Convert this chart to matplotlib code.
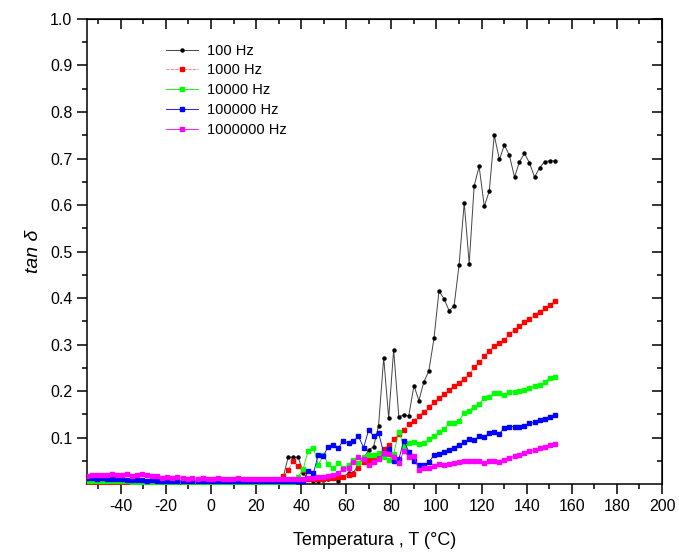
import matplotlib
matplotlib.use('Agg')
import matplotlib.pyplot as plt
from matplotlib.ticker import FixedLocator, FormatStrFormatter
import numpy as np

plt.rcParams['font.family'] = ['Liberation Sans', 'DejaVu Sans']
plt.rcParams['axes.unicode_minus'] = False

# temperature grid (deg C), shared by all frequencies
temp = [-55.0, -52.8, -50.5, -48.3, -46.1, -43.9, -41.6, -39.4, -37.2, -34.9,
        -32.7, -30.5, -28.2, -26.0, -23.8, -21.6, -19.3, -17.1, -14.9, -12.6,
        -10.4, -8.2, -5.9, -3.7, -1.5, 0.8, 3.0, 5.2, 7.4, 9.7,
        11.9, 14.1, 16.4, 18.6, 20.8, 23.1, 25.3, 27.5, 29.7, 32.0,
        34.2, 36.4, 38.7, 40.9, 43.1, 45.4, 47.6, 49.8, 52.0, 54.3,
        56.5, 58.7, 61.0, 63.2, 65.4, 67.7, 69.9, 72.1, 74.3, 76.6,
        78.8, 81.0, 83.3, 85.5, 87.7, 90.0, 92.2, 94.4, 96.6, 98.9,
        101.1, 103.3, 105.6, 107.8, 110.0, 112.3, 114.5, 116.7, 118.9, 121.2,
        123.4, 125.6, 127.9, 130.1, 132.3, 134.6, 136.8, 139.0, 141.2, 143.5,
        145.7, 147.9, 150.2, 152.4]

tan_100 = [0.002] * 39 + [
    0.014, 0.058, 0.058, 0.058, 0.025, 0.012, 0.007, 0.008, 0.009, 0.011,
    0.013, 0.007, 0.016, 0.024, 0.025, 0.043, 0.056, 0.073, 0.081, 0.125,
    0.272, 0.142, 0.289, 0.145, 0.149, 0.147, 0.212, 0.180, 0.220, 0.243,
    0.314, 0.415, 0.399, 0.373, 0.383, 0.471, 0.605, 0.474, 0.641, 0.683,
    0.597, 0.630, 0.750, 0.698, 0.729, 0.707, 0.660, 0.693, 0.711, 0.691,
    0.660, 0.680, 0.693, 0.695, 0.695]

tan_1k = [0.002] * 35 + [
    0.003, 0.004, 0.006, 0.010, 0.018, 0.030, 0.050, 0.040, 0.030,
    0.012, 0.011, 0.011, 0.012, 0.013, 0.014, 0.016, 0.016, 0.020, 0.023,
    0.036, 0.047, 0.052, 0.058, 0.066, 0.076, 0.084, 0.097, 0.108, 0.117,
    0.129, 0.137, 0.147, 0.156, 0.167, 0.176, 0.185, 0.194, 0.203, 0.212,
    0.218, 0.227, 0.237, 0.251, 0.262, 0.275, 0.287, 0.298, 0.304, 0.310,
    0.323, 0.331, 0.341, 0.349, 0.356, 0.364, 0.371, 0.378, 0.385, 0.393]

tan_10k = [0.007, 0.007, 0.007, 0.006, 0.007, 0.006, 0.006, 0.006, 0.006, 0.005,
           0.005, 0.005, 0.005] + [0.004] * 29 + [
    0.015, 0.033, 0.072, 0.079, 0.041, 0.063, 0.043, 0.034, 0.045, 0.035,
    0.042, 0.052, 0.045, 0.058, 0.063, 0.062, 0.068, 0.058, 0.052, 0.065,
    0.113, 0.082, 0.088, 0.090, 0.086, 0.088, 0.097, 0.104, 0.112, 0.119,
    0.131, 0.132, 0.137, 0.153, 0.158, 0.167, 0.173, 0.185, 0.187, 0.196,
    0.196, 0.192, 0.198, 0.199, 0.201, 0.203, 0.207, 0.211, 0.214, 0.219,
    0.228, 0.231]

tan_100k = [0.013, 0.013, 0.012, 0.013, 0.012, 0.012, 0.011, 0.012, 0.010, 0.010,
            0.009, 0.010, 0.008, 0.009, 0.008] + [0.007] * 26 + [
    0.006, 0.006, 0.006, 0.028, 0.024, 0.063, 0.061, 0.081, 0.084, 0.078,
    0.094, 0.088, 0.093, 0.103, 0.079, 0.116, 0.104, 0.111, 0.067, 0.076,
    0.050, 0.054, 0.094, 0.070, 0.050, 0.041, 0.042, 0.047, 0.063, 0.066,
    0.070, 0.074, 0.079, 0.085, 0.090, 0.097, 0.095, 0.103, 0.101, 0.111,
    0.113, 0.109, 0.121, 0.124, 0.124, 0.124, 0.126, 0.131, 0.133, 0.138,
    0.141, 0.144, 0.149]

tan_1M = [0.018, 0.019, 0.019, 0.020, 0.021, 0.022, 0.021, 0.021, 0.022, 0.018,
          0.019, 0.023, 0.019, 0.017, 0.017, 0.014, 0.016, 0.013, 0.015, 0.013,
          0.012, 0.013, 0.012, 0.013, 0.012, 0.012, 0.013, 0.012, 0.012, 0.012,
          0.013, 0.012, 0.012, 0.012, 0.012, 0.012, 0.012, 0.012, 0.012, 0.012,
          0.012, 0.011, 0.011, 0.012,
          0.013, 0.014, 0.016, 0.016, 0.018, 0.020, 0.024, 0.033, 0.036, 0.047,
          0.058, 0.054, 0.042, 0.047, 0.054, 0.068, 0.065, 0.058, 0.045, 0.072,
          0.059, 0.061, 0.031, 0.034, 0.036, 0.040, 0.043, 0.042, 0.043, 0.045,
          0.047, 0.049, 0.050, 0.049, 0.049, 0.045, 0.049, 0.050, 0.048, 0.053,
          0.056, 0.061, 0.063, 0.068, 0.072, 0.074, 0.077, 0.081, 0.084, 0.087]

xmaj = np.arange(-40, 201, 20)
xmin = np.arange(-50, 201, 10)
ymaj = np.arange(0.1, 1.01, 0.1)
ymin = np.arange(0.05, 1.0, 0.1)

fig = plt.figure(figsize=(6.79, 5.56), dpi=100)
ax = fig.add_axes([0.128, 0.129, 0.847, 0.837])

ms = 2.2
ax.plot(temp, tan_100, color='#444444', lw=0.7, marker='o', ms=ms,
        mfc='black', mec='black', label='100 Hz', zorder=3)
ax.plot(temp, tan_1k, color='#ff7070', lw=0.6, ls='--', marker='s', ms=ms,
        mfc='red', mec='red', label='1000 Hz', zorder=3)
ax.plot(temp, tan_10k, color='#00ee00', lw=0.6, marker='s', ms=ms,
        mfc='#00ff00', mec='#00ff00', label='10000 Hz', zorder=3)
ax.plot(temp, tan_100k, color='blue', lw=0.6, marker='s', ms=ms,
        mfc='blue', mec='blue', label='100000 Hz', zorder=3)
ax.plot(temp, tan_1M, color='magenta', lw=0.6, marker='s', ms=ms,
        mfc='magenta', mec='magenta', label='1000000 Hz', zorder=3)

ax.set_xlim(-55, 200)
ax.set_ylim(0, 1.0)

ax.xaxis.set_major_locator(FixedLocator(xmaj))
ax.xaxis.set_minor_locator(FixedLocator(xmin))
ax.yaxis.set_major_locator(FixedLocator(ymaj))
ax.yaxis.set_minor_locator(FixedLocator(ymin))
ax.yaxis.set_major_formatter(FormatStrFormatter('%.1f'))

for s in ax.spines.values():
    s.set_linewidth(1.1)

ax.tick_params(which='major', length=7, width=1.1, direction='out', labelsize=11.5)
ax.tick_params(which='minor', length=3.5, width=1.1, direction='out')

# mirrored inward ticks on top and right
top = ax.secondary_xaxis('top')
top.xaxis.set_major_locator(FixedLocator(xmaj))
top.xaxis.set_minor_locator(FixedLocator(xmin))
top.tick_params(which='major', length=7, width=1.1, direction='in', labeltop=False)
top.tick_params(which='minor', length=3.5, width=1.1, direction='in')
right = ax.secondary_yaxis('right')
right.yaxis.set_major_locator(FixedLocator(ymaj))
right.yaxis.set_minor_locator(FixedLocator(ymin))
right.tick_params(which='major', length=7, width=1.1, direction='in', labelright=False)
right.tick_params(which='minor', length=3.5, width=1.1, direction='in')

ax.set_xlabel('Temperatura , T (°C)', fontsize=13, labelpad=13)
ax.set_ylabel('tan δ', fontsize=14, style='italic', labelpad=6)

ax.legend(loc='upper left', bbox_to_anchor=(0.115, 0.975), frameon=False,
          fontsize=10.5, handlelength=2.2, handletextpad=0.6, labelspacing=0.4)

fig.savefig('out.png', dpi=100)
